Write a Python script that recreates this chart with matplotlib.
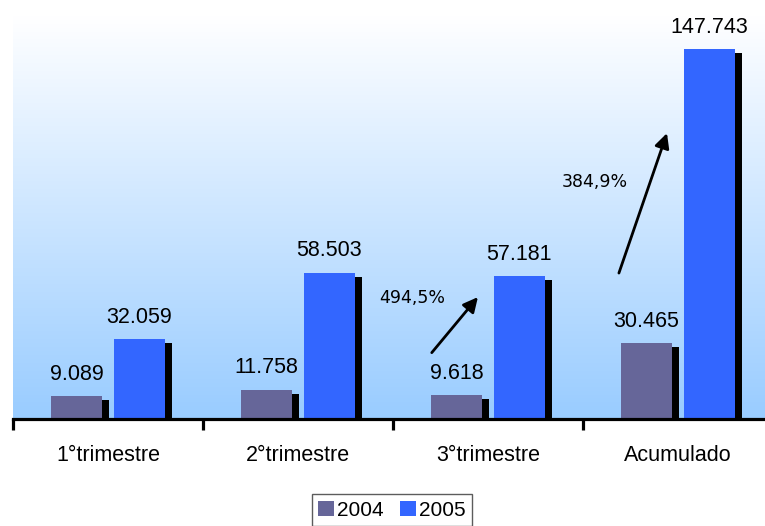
import numpy as np
import matplotlib
matplotlib.use("Agg")
import matplotlib.pyplot as plt
from matplotlib.colors import LinearSegmentedColormap

categories = ["1°trimestre", "2°trimestre", "3°trimestre", "Acumulado"]
v2004 = [9089, 11758, 9618, 30465]
v2005 = [32059, 58503, 57181, 147743]
lbl2004 = ["9.089", "11.758", "9.618", "30.465"]
lbl2005 = ["32.059", "58.503", "57.181", "147.743"]
series = ["2004", "2005"]
colors = ["#666699", "#3366FF"]

# growth arrows: (text, text pos, arrow tail, arrow head) in data coords
growth = [
    ("494,5%", (1.60, 48300), (1.704, 26500), (1.947, 48700)),
    ("384,9%", (2.56, 94600), (2.689, 58300), (2.942, 114200)),
]

fig = plt.figure(figsize=(7.65, 5.26), dpi=100)
ax = fig.add_axes([13 / 765, 107 / 526, 760 / 765, 403 / 526])
ymax = 161000
ax.set_xlim(-0.5, 3.5)
ax.set_ylim(0, ymax)

# background gradient
cmap = LinearSegmentedColormap.from_list("bg", ["#99CCFF", "#FFFFFF"])
grad = np.linspace(0, 1, 256).reshape(-1, 1)
ax.imshow(grad, extent=[0, 1, 0, 1], transform=ax.transAxes, aspect="auto",
          cmap=cmap, origin="lower", zorder=0)

x = np.arange(len(categories))
w = 0.272
off = 0.165
sdx = 6.5 / 190
sdy = 4 / (400 / 160000)

for i, (vals, c) in enumerate(zip([v2004, v2005], colors)):
    pos = x + (i * 2 - 1) * off
    vals = np.array(vals)
    ax.bar(pos + sdx, vals - sdy, width=w, color="black", zorder=2)
    ax.bar(pos, vals, width=w, color=c, zorder=3, label=series[i])

for i in range(len(categories)):
    ax.annotate(lbl2004[i], (x[i] - off, v2004[i]), xytext=(0, 8), textcoords="offset points",
                ha="center", va="bottom", fontsize=15.5, family="Liberation Sans", zorder=4)
    ax.annotate(lbl2005[i], (x[i] + off, v2005[i]), xytext=(0, 8), textcoords="offset points",
                ha="center", va="bottom", fontsize=15.5, family="Liberation Sans", zorder=4)

for txt, tpos, tail, head in growth:
    ax.text(tpos[0], tpos[1], txt, ha="center", va="center", fontsize=12.5,
            family="DejaVu Sans", zorder=5)
    ax.annotate("", xy=head, xytext=tail,
                arrowprops=dict(arrowstyle="-|>", lw=2, color="black", mutation_scale=22,
                                shrinkA=0, shrinkB=0), zorder=5)

for s in ["left", "top", "right"]:
    ax.spines[s].set_visible(False)
ax.spines["bottom"].set_linewidth(2.3)
ax.spines["bottom"].set_zorder(6)
ax.set_yticks([])
ax.set_xticks(np.arange(-0.5, 4, 1))
ax.set_xticklabels([])
ax.tick_params(axis="x", which="major", length=8, width=2.3, direction="out")
ax.set_xticks(x, minor=True)
ax.set_xticklabels(categories, minor=True, fontsize=15.5, family="Liberation Sans")
ax.tick_params(axis="x", which="minor", length=0, pad=19)

leg = fig.legend(loc="upper center", bbox_to_anchor=(392 / 765, 1 - 484 / 526), ncol=2,
                 prop={"family": "Liberation Sans", "size": 15},
                 handlelength=0.75, handleheight=0.75, handletextpad=0.15,
                 columnspacing=0.8, borderpad=0.3, fancybox=False, frameon=True)
leg.get_frame().set_edgecolor("#333333")
leg.get_frame().set_linewidth(1)

fig.savefig("out.png", dpi=100)
